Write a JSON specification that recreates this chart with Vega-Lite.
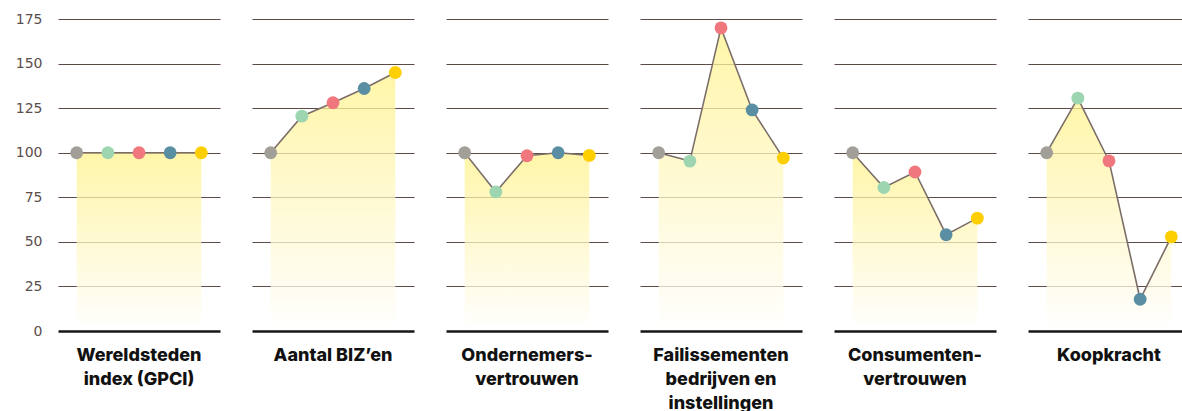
{
  "$schema": "https://vega.github.io/schema/vega-lite/v6.json",
  "padding": {"left": 15, "top": 12, "right": 0, "bottom": 0},
  "background": "white",
  "config": {"view": {"stroke": null}, "font": "Inter"},
  "data": {"values": [
    {"panel": "Wereldsteden|index (GPCI)", "i": 0, "value": 100},
    {"panel": "Wereldsteden|index (GPCI)", "i": 1, "value": 100},
    {"panel": "Wereldsteden|index (GPCI)", "i": 2, "value": 100},
    {"panel": "Wereldsteden|index (GPCI)", "i": 3, "value": 100},
    {"panel": "Wereldsteden|index (GPCI)", "i": 4, "value": 100},
    {"panel": "Aantal BIZ’en", "i": 0, "value": 100},
    {"panel": "Aantal BIZ’en", "i": 1, "value": 120.5},
    {"panel": "Aantal BIZ’en", "i": 2, "value": 128},
    {"panel": "Aantal BIZ’en", "i": 3, "value": 136},
    {"panel": "Aantal BIZ’en", "i": 4, "value": 145},
    {"panel": "Ondernemers-|vertrouwen", "i": 0, "value": 100},
    {"panel": "Ondernemers-|vertrouwen", "i": 1, "value": 78},
    {"panel": "Ondernemers-|vertrouwen", "i": 2, "value": 98.3},
    {"panel": "Ondernemers-|vertrouwen", "i": 3, "value": 100},
    {"panel": "Ondernemers-|vertrouwen", "i": 4, "value": 98.5},
    {"panel": "Failissementen|bedrijven en|instellingen", "i": 0, "value": 100},
    {"panel": "Failissementen|bedrijven en|instellingen", "i": 1, "value": 95.3},
    {"panel": "Failissementen|bedrijven en|instellingen", "i": 2, "value": 170},
    {"panel": "Failissementen|bedrijven en|instellingen", "i": 3, "value": 124},
    {"panel": "Failissementen|bedrijven en|instellingen", "i": 4, "value": 97},
    {"panel": "Consumenten-|vertrouwen", "i": 0, "value": 100},
    {"panel": "Consumenten-|vertrouwen", "i": 1, "value": 80.5},
    {"panel": "Consumenten-|vertrouwen", "i": 2, "value": 89.2},
    {"panel": "Consumenten-|vertrouwen", "i": 3, "value": 54},
    {"panel": "Consumenten-|vertrouwen", "i": 4, "value": 63.3},
    {"panel": "Koopkracht", "i": 0, "value": 100},
    {"panel": "Koopkracht", "i": 1, "value": 130.6},
    {"panel": "Koopkracht", "i": 2, "value": 95.4},
    {"panel": "Koopkracht", "i": 3, "value": 17.8},
    {"panel": "Koopkracht", "i": 4, "value": 52.8}
  ]},
  "facet": {
    "column": {
      "field": "panel", "type": "nominal",
      "sort": ["Wereldsteden|index (GPCI)", "Aantal BIZ’en", "Ondernemers-|vertrouwen", "Failissementen|bedrijven en|instellingen", "Consumenten-|vertrouwen", "Koopkracht"],
      "header": {
        "title": null, "labelOrient": "bottom",
        "labelExpr": "split(datum.value, '|')",
        "labelFont": "Inter", "labelFontSize": 18, "labelFontWeight": 800,
        "labelColor": "#111111", "labelLineHeight": 24, "labelPadding": 16, "labelBaseline": "top"
      }
    }
  },
  "spacing": 32,
  "spec": {
    "width": 162,
    "height": 312,
    "encoding": {
      "x": {"field": "i", "type": "ordinal", "scale": {"type": "point", "padding": 0.6}, "axis": null},
      "y": {"field": "value", "type": "quantitative", "scale": {"domain": [0, 175], "nice": false},
        "axis": {"title": null, "values": [0, 25, 50, 75, 100, 125, 150, 175], "domain": false, "ticks": false,
          "grid": true,
          "gridColor": {"condition": {"test": "datum.value === 0", "value": "#161616"}, "value": "#5c4b47"},
          "gridWidth": {"condition": {"test": "datum.value === 0", "value": 2.5}, "value": 1},
          "gridOpacity": 1,
          "labelColor": "#5b4e4b", "labelFontSize": 14, "labelPadding": 16, "labelFont": "DejaVu Sans"}}
    },
    "layer": [
      {"mark": {"type": "area", "fillOpacity": 0.75, "color": {"gradient": "linear", "x1": 0, "y1": 1, "x2": 0, "y2": 0,
        "stops": [{"offset": 0, "color": "#ffffff"}, {"offset": 0.05, "color": "#fffdf6"}, {"offset": 1, "color": "#fff28b"}]}},
       "encoding": {"y2": {"datum": 2}}},
      {"mark": {"type": "line", "color": "#7b6e69", "strokeWidth": 1.6}},
      {"mark": {"type": "point", "filled": true, "size": 165, "opacity": 1},
        "encoding": {"color": {"field": "i", "type": "nominal", "legend": null,
          "scale": {"domain": [0, 1, 2, 3, 4], "range": ["#a29e98", "#9dd5b0", "#f0777e", "#5a8fa3", "#fdcf00"]}}}}
    ]
  }
}
